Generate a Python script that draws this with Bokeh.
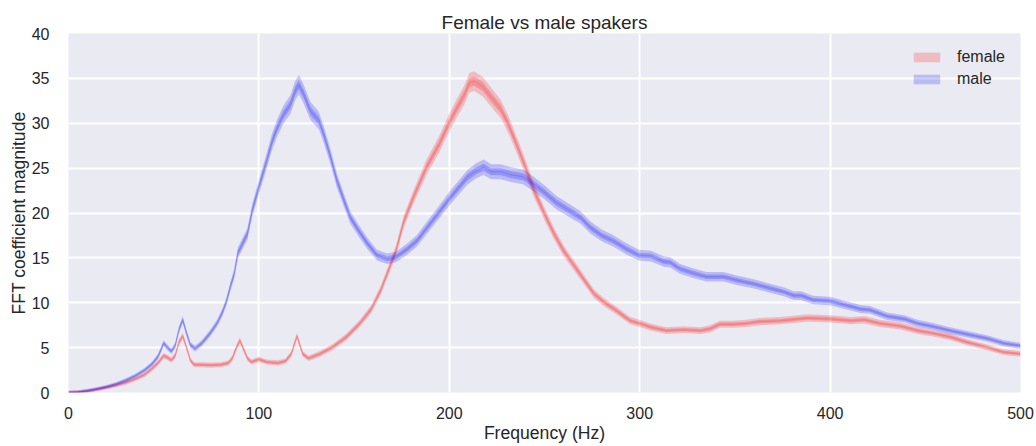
import numpy as np
from bokeh.plotting import figure
from bokeh.models import Legend, LegendItem, FixedTicker, Range1d
from bokeh.embed import file_html
from bokeh.resources import INLINE

# ---- data ----
female_hz = [0, 5, 10, 15, 20, 25, 30, 35, 40, 44, 47, 50, 52, 54, 56, 58, 60, 62, 64, 66,
             70, 75, 80, 84, 86, 88, 90, 92, 94, 96, 100, 104, 110, 114, 117, 120, 123, 126,
             132, 139, 146, 153, 159, 164, 168, 172, 176, 181, 188, 195, 200, 204, 208, 210.5,
             213, 217.5, 222, 227, 231, 236, 240, 244.5, 250, 255, 260, 265, 271, 276, 281,
             288, 295, 300, 305.5, 314, 323, 332, 337, 342, 349, 356, 363, 374, 388, 400, 411,
             418, 426, 437, 446, 454, 463, 472, 483, 491, 500]
female_mag = [0, 0.05, 0.15, 0.35, 0.55, 0.8, 1.1, 1.5, 2.0, 2.7, 3.3, 4.1, 3.9, 3.6, 4.1, 5.6,
              6.3, 5.0, 3.6, 3.1, 3.1, 3.05, 3.1, 3.3, 3.8, 4.9, 5.8, 4.8, 3.8, 3.4, 3.7, 3.4,
              3.3, 3.5, 4.3, 6.3, 4.3, 3.8, 4.3, 5.1, 6.2, 7.7, 9.3, 11.4, 13.6, 15.8, 19.0,
              21.7, 25.1, 27.8, 30.1, 31.7, 33.2, 34.5, 34.7, 34.1, 32.9, 31.6, 29.9, 27.3,
              25.1, 22.5, 19.9, 17.7, 15.8, 14.3, 12.5, 11.0, 10.1, 9.1, 8.0, 7.7, 7.3, 6.9,
              7.0, 6.9, 7.1, 7.6, 7.6, 7.7, 7.9, 8.0, 8.3, 8.2, 8.0, 8.1, 7.7, 7.4, 6.9, 6.6,
              6.2, 5.6, 5.0, 4.5, 4.3]

male_hz = [0, 5, 10, 15, 20, 25, 30, 35, 40, 44, 47, 50, 52, 54, 56, 58, 60, 62, 64, 66.5,
           70, 74, 78, 81, 83, 85, 87, 89, 90.5, 94, 96.5, 100, 103.5, 107, 109.6, 113, 116.6,
           119, 121, 123.6, 127, 131.5, 134, 137.7, 141, 144.7, 148, 152.5, 157, 162, 167.4,
           172, 178, 183, 188.4, 195.4, 200, 204.4, 209.6, 214, 218, 222, 227, 232, 239,
           244.5, 250, 256, 262, 269, 274, 280, 286, 293, 299.5, 306, 312.6, 316, 321, 328,
           335, 344, 351, 360, 367, 376, 381, 385, 391, 400, 407, 416, 421, 430, 439, 446,
           453, 463, 474, 483, 491, 500]
male_mag = [0, 0.05, 0.2, 0.4, 0.65, 0.95, 1.35, 1.85, 2.5, 3.2, 4.0, 5.5, 5.0, 4.6, 5.2, 7.0,
            8.1, 6.6, 5.3, 4.9, 5.5, 6.5, 7.7, 9.0, 10.2, 11.8, 13.2, 15.6, 16.2, 17.7, 20.3,
            22.9, 25.4, 28.0, 29.5, 31.0, 32.1, 33.6, 34.3, 33.2, 31.4, 30.3, 28.8, 26.2,
            23.6, 21.4, 19.5, 18.0, 16.6, 15.3, 14.9, 15.1, 16.0, 16.9, 18.4, 20.3, 21.6,
            22.7, 24.0, 24.7, 25.1, 24.6, 24.6, 24.3, 24.0, 23.2, 22.3, 21.2, 20.4, 19.5,
            18.4, 17.5, 16.9, 16.0, 15.3, 15.2, 14.6, 14.5, 13.8, 13.3, 12.9, 12.9, 12.5,
            12.1, 11.7, 11.2, 10.8, 10.8, 10.3, 10.2, 9.8, 9.3, 9.2, 8.5, 8.2, 7.7, 7.4, 6.9,
            6.4, 6.0, 5.5, 5.2]

x_ticks = [0, 100, 200, 300, 400, 500]
y_ticks = [0, 5, 10, 15, 20, 25, 30, 35, 40]

FONT = "Liberation Sans"
TXT = "#262626"

p = figure(width=1036, height=446, x_range=Range1d(0, 500), y_range=Range1d(0, 40),
           output_backend="svg", toolbar_location=None, title="Female vs male spakers",
           min_border_left=68, min_border_right=16, min_border_top=33, min_border_bottom=54)

p.background_fill_color = "#EAEAF2"
p.border_fill_color = "white"
p.outline_line_color = None
p.grid.grid_line_color = "white"
p.grid.grid_line_width = 2

p.title.align = "center"
p.title.text_font = FONT
p.title.text_font_size = "19px"
p.title.text_font_style = "normal"
p.title.text_color = TXT
p.title.standoff = 2

for ax in (p.xaxis, p.yaxis):
    ax.axis_line_color = None
    ax.major_tick_line_color = None
    ax.minor_tick_line_color = None
    ax.major_label_text_font = FONT
    ax.major_label_text_font_size = "16px"
    ax.major_label_text_color = TXT
    ax.axis_label_text_font = FONT
    ax.axis_label_text_font_size = "17.6px"
    ax.axis_label_text_font_style = "normal"
    ax.axis_label_text_color = TXT

p.xaxis.ticker = FixedTicker(ticks=x_ticks)
p.yaxis.ticker = FixedTicker(ticks=y_ticks)
p.xaxis.axis_label = "Frequency (Hz)"
p.yaxis.axis_label = "FFT coefficient magnitude"
p.xaxis.major_label_standoff = 8
p.yaxis.major_label_standoff = 13
p.xaxis.axis_label_standoff = 1
p.yaxis.axis_label_standoff = 0

items = []
for name, hz, mag, col in (("female", female_hz, female_mag, "red"),
                           ("male", male_hz, male_mag, "blue")):
    x = np.array(hz, dtype=float)
    m = np.array(mag, dtype=float)
    inner = 0.1 + 0.012 * m
    outer = 0.2 + 0.026 * m
    r_out = p.varea(x=x, y1=m - outer, y2=m + outer, fill_color=col, fill_alpha=0.2)
    p.varea(x=x, y1=m - inner, y2=m + inner, fill_color=col, fill_alpha=0.2)
    p.line(x=x, y=m, line_color=col, line_alpha=0.12, line_width=1.5)
    items.append(LegendItem(label=name, renderers=[r_out]))

legend = Legend(items=items, location="top_right")
legend.background_fill_alpha = 0
legend.border_line_color = None
legend.label_text_font = FONT
legend.label_text_font_size = "16px"
legend.label_text_color = TXT
legend.glyph_width = 33
legend.glyph_height = 12
legend.label_height = 12
legend.label_standoff = 14
legend.spacing = 4
legend.margin = 15
legend.padding = 0
p.add_layout(legend)

open("out.html", "w").write(file_html(p, INLINE))
